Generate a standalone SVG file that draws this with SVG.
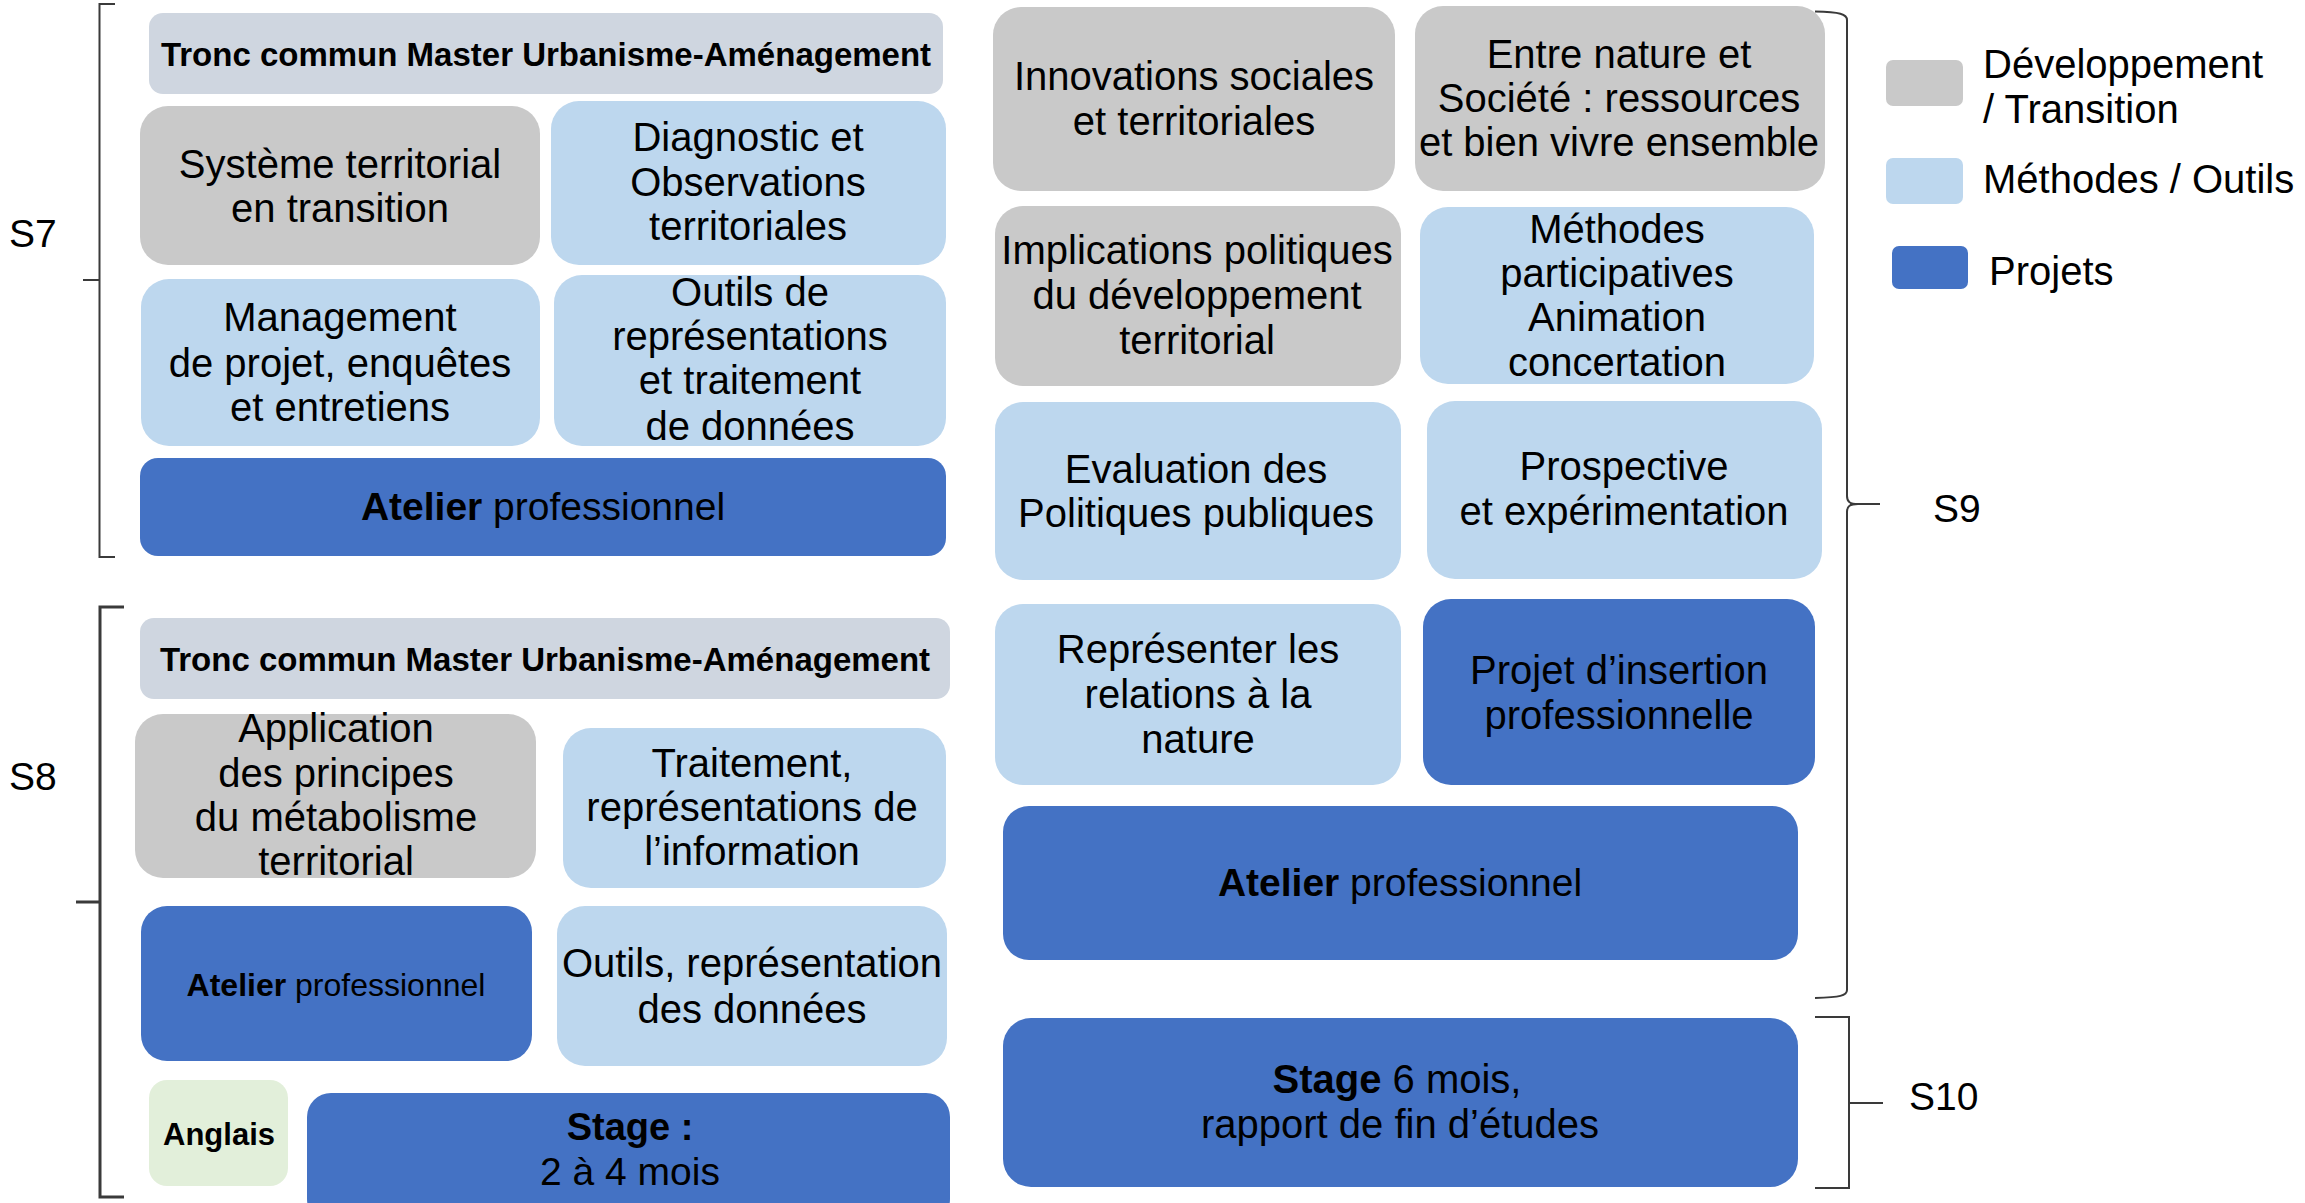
<svg xmlns="http://www.w3.org/2000/svg" width="2305" height="1203" viewBox="0 0 2305 1203">
<style>
  .dev{fill:#C9C9C9}
  .met{fill:#BDD7EE}
  .prj{fill:#4472C4}
  .trc{fill:#CFD6E0}
  .ang{fill:#E2EFDA}
  text{font-family:"Liberation Sans",Arial,sans-serif;fill:#000;text-anchor:middle;font-size:40px}
  .b{font-weight:bold}
  .tr{font-weight:bold;font-size:33px}
  .lg{text-anchor:start;font-size:40px}
  .sl{text-anchor:start;font-size:39px}
  .br{fill:none;stroke:#3a3a3a;stroke-width:2}
</style>
<rect width="2305" height="1203" fill="#fff"/>

<g id="connectors">
  <path class="br" d="M115,4 H99.5 V557 H115 M83,280 H99.5"/>
  <path class="br" style="stroke-width:3" d="M124,607 H100 V1197 H124 M76,902 H100"/>
  <path class="br" d="M1815,11.5 C1840,12 1847,14 1847,20 V496 C1847,502 1850,504 1858,504 C1850,504 1847,506 1847,512 V990 C1847,996 1840,997 1815,998 M1850,504 H1880"/>
  <path class="br" d="M1815,1017 H1849 V1188 H1815 M1849,1103 H1883"/>
</g>

<g id="labels">
  <text class="sl" x="9" y="247">S7</text>
  <text class="sl" x="9" y="790">S8</text>
  <text class="sl" x="1933" y="522">S9</text>
  <text class="sl" x="1909" y="1110">S10</text>
</g>

<g id="tronc-s7"><rect class="trc" x="149" y="13" width="794" height="81" rx="14"/><text class="tr" x="546" y="66">Tronc commun Master Urbanisme-Aménagement</text></g>
<g id="systeme"><rect class="dev" x="140" y="106" width="400" height="159" rx="28"/><text x="340" y="178">Système territorial</text><text x="340" y="222">en transition</text></g>
<g id="diagnostic"><rect class="met" x="551" y="101" width="395" height="164" rx="28"/><text x="748" y="151">Diagnostic et</text><text x="748" y="196">Observations</text><text x="748" y="240">territoriales</text></g>
<g id="management"><rect class="met" x="141" y="279" width="399" height="167" rx="28"/><text x="340" y="331">Management</text><text x="340" y="377">de projet, enquêtes</text><text x="340" y="421">et entretiens</text></g>
<g id="outils-s7"><rect class="met" x="554" y="275" width="392" height="171" rx="28"/><text x="750" y="306">Outils de</text><text x="750" y="350">représentations</text><text x="750" y="394">et traitement</text><text x="750" y="440">de données</text></g>
<g id="atelier-s7"><rect class="prj" x="140" y="458" width="806" height="98" rx="18"/><text x="543" y="520" style="font-size:39px"><tspan class="b">Atelier</tspan> professionnel</text></g>

<g id="tronc-s8"><rect class="trc" x="140" y="618" width="810" height="81" rx="14"/><text class="tr" x="545" y="671">Tronc commun Master Urbanisme-Aménagement</text></g>
<g id="application"><rect class="dev" x="135" y="714" width="401" height="164" rx="28"/><text x="336" y="742">Application</text><text x="336" y="787">des principes</text><text x="336" y="831">du métabolisme</text><text x="336" y="875">territorial</text></g>
<g id="traitement"><rect class="met" x="563" y="728" width="383" height="160" rx="28"/><text x="752" y="777">Traitement,</text><text x="752" y="821">représentations de</text><text x="752" y="865">l’information</text></g>
<g id="atelier-s8"><rect class="prj" x="141" y="906" width="391" height="155" rx="26"/><text x="336" y="996" style="font-size:32px"><tspan class="b">Atelier</tspan> professionnel</text></g>
<g id="outils-s8"><rect class="met" x="557" y="906" width="390" height="160" rx="28"/><text x="752" y="977">Outils, représentation</text><text x="752" y="1023">des données</text></g>
<g id="anglais"><rect class="ang" x="149" y="1080" width="139" height="106" rx="18"/><text class="b" x="219" y="1145" style="font-size:31px">Anglais</text></g>
<g id="stage-s8"><rect class="prj" x="307" y="1093" width="643" height="130" rx="24"/><text class="b" x="630" y="1140" style="font-size:38px">Stage :</text><text x="630" y="1185" style="font-size:39px">2 à 4 mois</text></g>

<g id="innovations"><rect class="dev" x="993" y="7" width="402" height="184" rx="28"/><text x="1194" y="90">Innovations sociales</text><text x="1194" y="135">et territoriales</text></g>
<g id="entre-nature"><rect class="dev" x="1415" y="6" width="410" height="185" rx="28"/><text x="1619" y="68">Entre nature et</text><text x="1619" y="112">Société : ressources</text><text x="1619" y="156">et bien vivre ensemble</text></g>
<g id="implications"><rect class="dev" x="995" y="206" width="406" height="180" rx="28"/><text x="1197" y="264">Implications politiques</text><text x="1197" y="309">du développement</text><text x="1197" y="354">territorial</text></g>
<g id="methodes"><rect class="met" x="1420" y="207" width="394" height="177" rx="28"/><text x="1617" y="243">Méthodes</text><text x="1617" y="287">participatives</text><text x="1617" y="331">Animation</text><text x="1617" y="376">concertation</text></g>
<g id="evaluation"><rect class="met" x="995" y="402" width="406" height="178" rx="28"/><text x="1196" y="483">Evaluation des</text><text x="1196" y="527">Politiques publiques</text></g>
<g id="prospective"><rect class="met" x="1427" y="401" width="395" height="178" rx="28"/><text x="1624" y="480">Prospective</text><text x="1624" y="525">et expérimentation</text></g>
<g id="representer"><rect class="met" x="995" y="604" width="406" height="181" rx="28"/><text x="1198" y="663">Représenter les</text><text x="1198" y="708">relations à la</text><text x="1198" y="753">nature</text></g>
<g id="projet-insertion"><rect class="prj" x="1423" y="599" width="392" height="186" rx="28"/><text x="1619" y="684">Projet d’insertion</text><text x="1619" y="729">professionnelle</text></g>
<g id="atelier-s9"><rect class="prj" x="1003" y="806" width="795" height="154" rx="26"/><text x="1400" y="896" style="font-size:39px"><tspan class="b">Atelier</tspan> professionnel</text></g>
<g id="stage-s10"><rect class="prj" x="1003" y="1018" width="795" height="169" rx="28"/><text x="1397" y="1093"><tspan class="b">Stage</tspan> 6 mois,</text><text x="1400" y="1138">rapport de fin d’études</text></g>

<g id="legend">
  <rect class="dev" x="1886" y="60" width="77" height="46" rx="7"/>
  <text class="lg" x="1983" y="78">Développement</text>
  <text class="lg" x="1983" y="123">/ Transition</text>
  <rect class="met" x="1886" y="158" width="77" height="46" rx="7"/>
  <text class="lg" x="1983" y="193">Méthodes / Outils</text>
  <rect class="prj" x="1892" y="246" width="76" height="43" rx="7"/>
  <text class="lg" x="1989" y="285">Projets</text>
</g>
</svg>
